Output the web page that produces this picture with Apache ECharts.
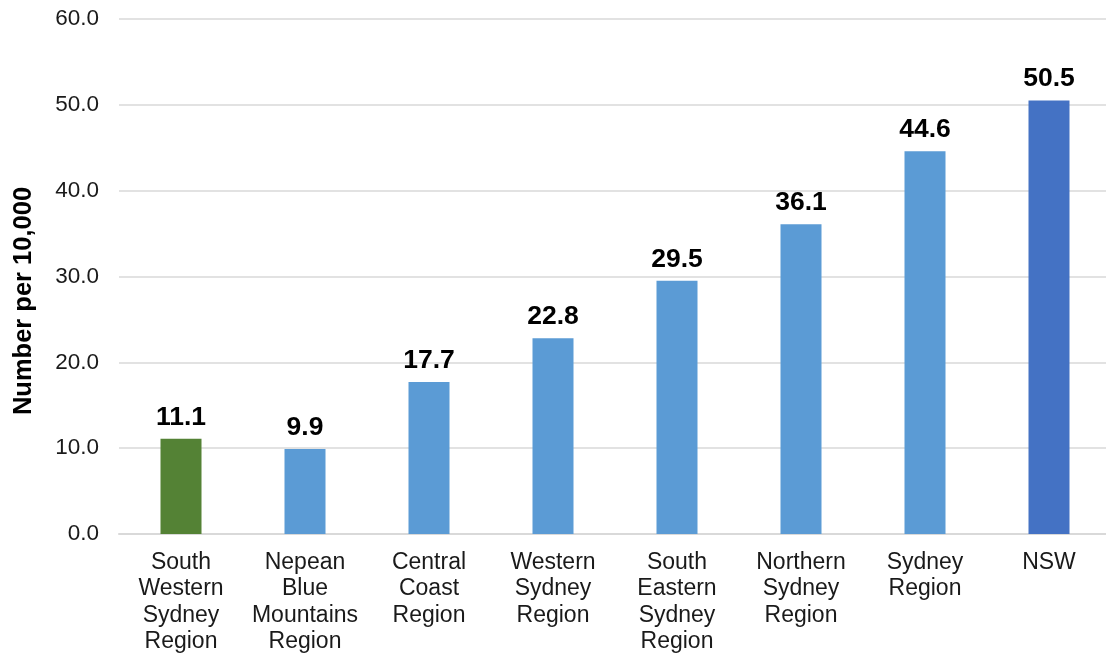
<!DOCTYPE html>
<html>
<head>
<meta charset="utf-8">
<script src="https://cdn.jsdelivr.net/npm/echarts@6/dist/echarts.min.js"></script>
<style>
html,body{margin:0;padding:0;background:#fff;overflow:hidden;}
#chart{width:1111px;height:655px;}
</style>
</head>
<body>
<div id="chart"></div>
<script>
const categories = [
  "South\nWestern\nSydney\nRegion",
  "Nepean\nBlue\nMountains\nRegion",
  "Central\nCoast\nRegion",
  "Western\nSydney\nRegion",
  "South\nEastern\nSydney\nRegion",
  "Northern\nSydney\nRegion",
  "Sydney\nRegion",
  "NSW"
];
const values = [11.1, 9.9, 17.7, 22.8, 29.5, 36.1, 44.6, 50.5];
const yTicks = [0, 10, 20, 30, 40, 50, 60];
const yTitle = "Number per 10,000";

const highlightColors = { 0: "#548235", 7: "#4472C4" };
const baseColor = "#5B9BD5";

const chart = echarts.init(document.getElementById('chart'));
chart.setOption({
  animation: false,
  grid: { left: 119, top: 19, right: 0, height: 515, containLabel: false },
  xAxis: {
    type: 'category',
    data: categories,
    axisLine: { lineStyle: { color: '#d9d9d9', width: 2 } },
    axisTick: { show: false },
    axisLabel: {
      interval: 0,
      fontFamily: 'Liberation Sans, Arial, sans-serif',
      fontSize: 23,
      lineHeight: 26.5,
      color: '#1a1a1a',
      margin: 15
    }
  },
  yAxis: {
    type: 'value',
    min: yTicks[0],
    max: yTicks[yTicks.length - 1],
    interval: yTicks[1] - yTicks[0],
    axisLine: { show: false },
    axisTick: { show: false },
    splitLine: { lineStyle: { color: '#d9d9d9', width: 1.5 } },
    axisLabel: {
      formatter: v => v.toFixed(1),
      fontFamily: 'Liberation Sans, Arial, sans-serif',
      fontSize: 22.5,
      color: '#1a1a1a',
      margin: 20
    }
  },
  graphic: [{
    type: 'text',
    x: 24,
    y: 301,
    rotation: Math.PI / 2,
    style: {
      text: yTitle,
      font: 'bold 25.5px "Liberation Sans", Arial, sans-serif',
      fill: '#000',
      align: 'center',
      verticalAlign: 'middle'
    }
  }],
  series: [{
    type: 'bar',
    data: values,
    barWidth: 41,
    itemStyle: {
      color: p => highlightColors[p.dataIndex] || baseColor
    },
    label: {
      show: true,
      position: 'top',
      distance: 8,
      formatter: p => p.value.toFixed(1),
      fontFamily: 'Liberation Sans, Arial, sans-serif',
      fontWeight: 'bold',
      fontSize: 26.5,
      color: '#000'
    }
  }]
});
</script>
</body>
</html>
